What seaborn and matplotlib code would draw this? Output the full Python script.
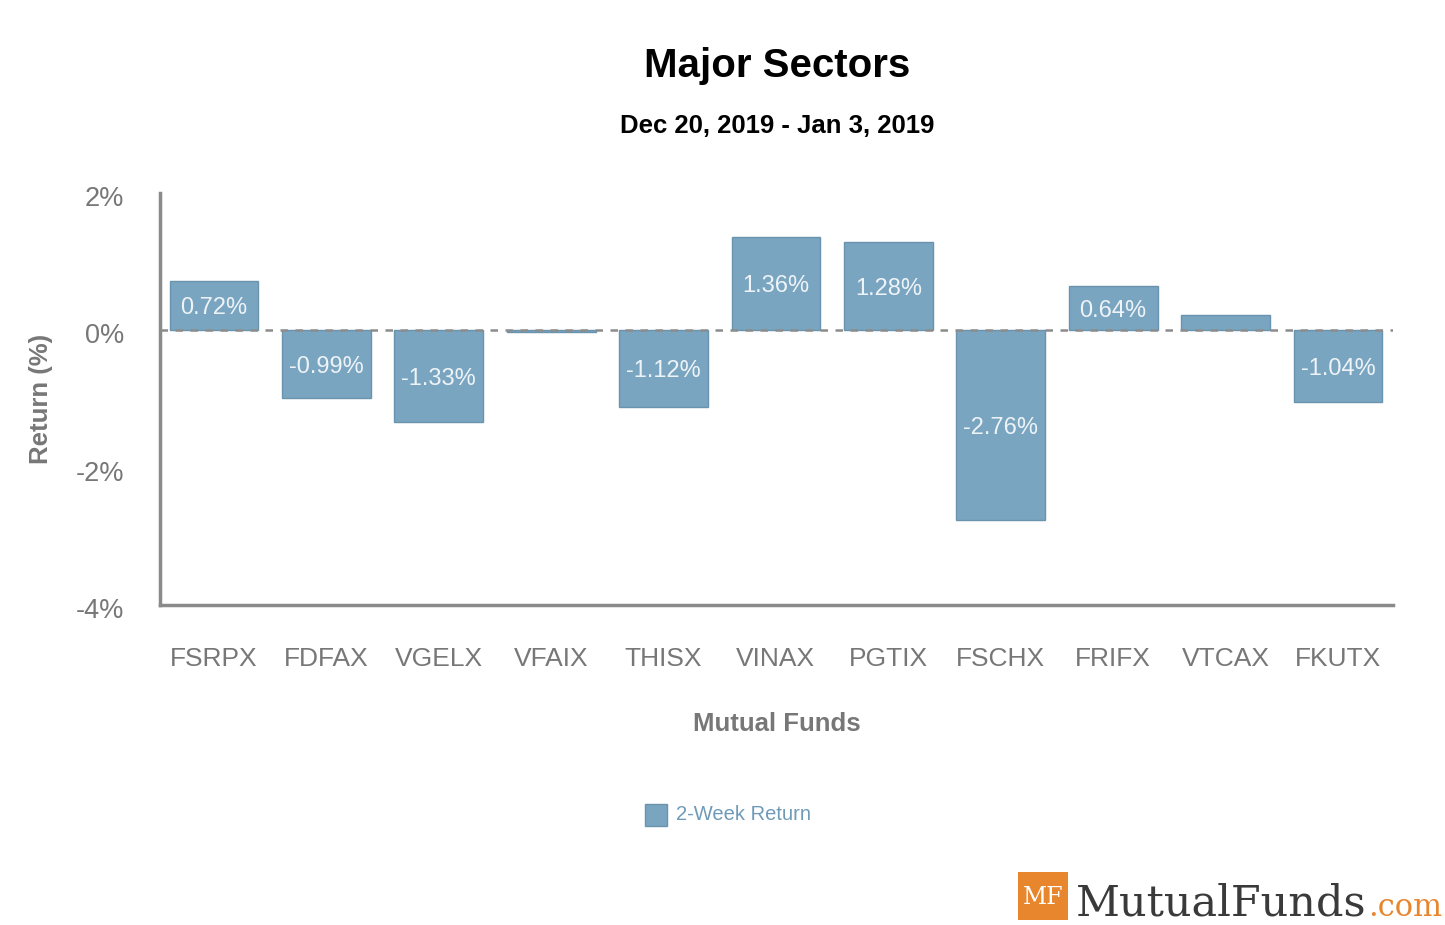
import numpy as np
import pandas as pd
import seaborn as sns
import matplotlib.pyplot as plt
import matplotlib.transforms as mtrans
from matplotlib.patches import Rectangle

##############################################################################
# Data
##############################################################################
funds = ["FSRPX", "FDFAX", "VGELX", "VFAIX", "THISX", "VINAX",
         "PGTIX", "FSCHX", "FRIFX", "VTCAX", "FKUTX"]
returns = [0.72, -0.99, -1.33, -0.03, -1.12, 1.36,
           1.28, -2.76, 0.64, 0.22, -1.04]
shown = [True, True, True, False, True, True,
         True, True, True, False, True]
yticks = [2, 0, -2, -4]
df = pd.DataFrame({"fund": funds, "ret": returns})

##############################################################################
# Style
##############################################################################
sns.set_theme(style="white")
plt.rcParams['font.family'] = ['Liberation Sans', 'DejaVu Sans']
BAR = "#79a5c1"
GREY = "#777777"

fig = plt.figure(figsize=(14.45, 9.25), dpi=100)
ax = fig.add_axes([0.1107, 0.346, 0.8533, 0.4454])

sns.barplot(data=df, x="fund", y="ret", color=BAR, saturation=1,
            width=0.79, edgecolor="#6a93ad", linewidth=1, ax=ax, zorder=2)
ax.axhline(0, color="#8c8c8c", lw=1.8, ls=(0, (3, 3)), zorder=3)

for i, (v, s) in enumerate(zip(returns, shown)):
    if s:
        ax.text(i, v / 2 - 0.04, f"{v:.2f}%", ha="center", va="center",
                fontsize=17, color="#eef3f7", zorder=4)

ax.set_xlim(-0.48, 10.49)
ax.set_ylim(-4, 2)
ax.set_yticks(yticks)
ax.set_yticklabels([f"{t}%" for t in yticks])
ax.tick_params(axis="y", labelsize=19.5, labelcolor=GREY, length=0, pad=26)
ax.tick_params(axis="x", labelsize=19, labelcolor=GREY, length=0, pad=30)
shift = mtrans.ScaledTranslation(0, -3 / 100, fig.dpi_scale_trans)
for lbl in ax.get_yticklabels():
    lbl.set_transform(lbl.get_transform() + shift)
for side in ["top", "right"]:
    ax.spines[side].set_visible(False)
for side in ["left", "bottom"]:
    ax.spines[side].set_color("#8a8a8a")
    ax.spines[side].set_linewidth(2.5)

ax.set_xlabel("Mutual Funds", fontsize=18.5, fontweight="bold", color=GREY,
              labelpad=30)
ax.set_ylabel("Return (%)", fontsize=18.5, fontweight="bold", color=GREY)
ax.yaxis.set_label_coords(-0.087, 0.50)

fig.text(0.538, 0.929, "Major Sectors", ha="center", va="center",
         fontsize=29, fontweight="bold", color="black")
fig.text(0.538, 0.864, "Dec 20, 2019 - Jan 3, 2019", ha="center",
         va="center", fontsize=18.5, fontweight="bold", color="black")

# legend
fig.patches.append(Rectangle((645 / 1445, 1 - 826 / 925), 22 / 1445,
                             22 / 925, transform=fig.transFigure,
                             facecolor=BAR, edgecolor="#6a93ad"))
fig.text(676 / 1445, 1 - 815 / 925, "2-Week Return", ha="left",
         va="center", fontsize=14.5, color="#6f9bb8")

# logo
fig.patches.append(Rectangle((1018 / 1445, 1 - 920 / 925), 50 / 1445,
                             48 / 925, transform=fig.transFigure,
                             facecolor="#e8862e", edgecolor="none"))
fig.text(1043 / 1445, 1 - 897 / 925, "MF", ha="center", va="center",
         fontsize=17, color="white", family="DejaVu Serif")
mf = fig.text(1076 / 1445, 1 - 916 / 925, "MutualFunds", ha="left",
              va="baseline", fontsize=31, color="#3a3a3a",
              family="DejaVu Serif")
fig.canvas.draw()
bb = mf.get_window_extent()
fig.text(bb.x1 / 1445 + 0.001, 1 - 916 / 925, ".com", ha="left",
         va="baseline", fontsize=22, color="#e8862e", family="DejaVu Serif")

fig.savefig("out.png", dpi=100)
plt.close(fig)
